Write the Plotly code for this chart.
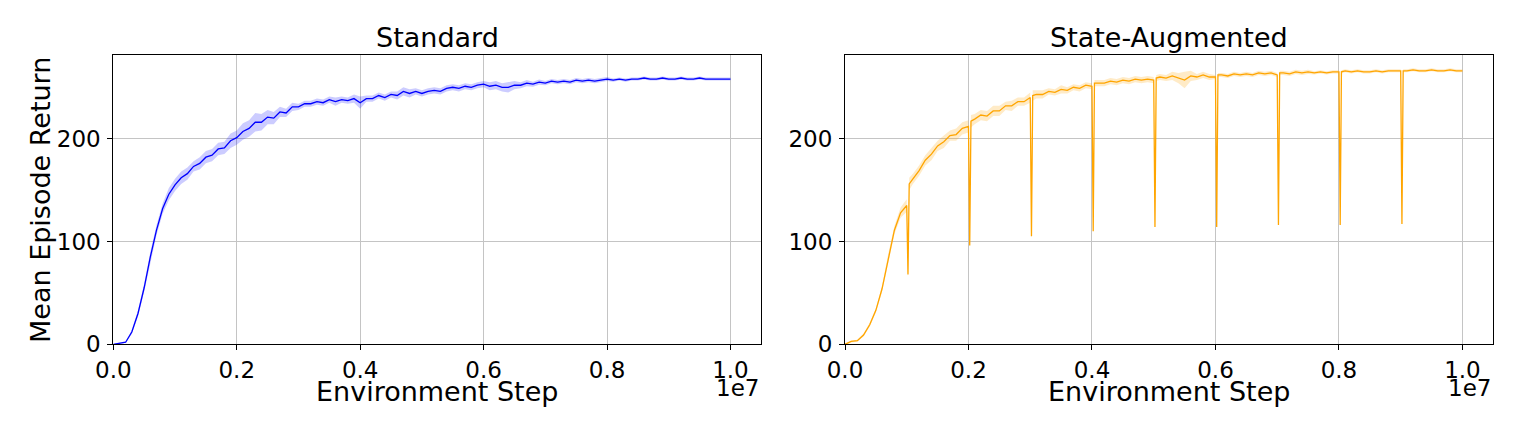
import numpy as np
import plotly.graph_objects as go

# ---------------- data ----------------
# regular evaluation steps: 0 .. 1e7 every 1e5
steps = np.arange(0, 101) * 1e5

standard_mean = [
    0, 0.7, 2, 12, 30, 55, 85, 111, 132, 146,
    155, 162, 166, 173, 176, 182, 184, 190, 191, 198,
    201, 207, 210, 216, 216, 221, 220, 226, 225, 231,
    231, 234, 234, 236, 235, 238, 236, 238, 237, 239,
    235, 239, 239, 242, 240, 243, 242, 246, 244, 246,
    244, 246, 247, 246, 249, 250, 249, 251, 250, 252,
    253, 251, 252, 250, 250, 252, 252, 254, 253, 255,
    254, 256, 255, 256, 255, 257, 256, 257, 256, 257,
    258, 257, 258, 257, 258, 258, 259, 258, 258, 259,
    258, 258, 259, 258, 258, 259, 258, 258, 258, 258,
    258,
]
standard_std = [
    0.3, 0.5, 0.8, 2, 3, 4, 5, 5, 5, 6,
    6, 6, 6, 5, 6, 6, 6, 6, 6, 7,
    7, 8, 8, 9, 8, 7, 6, 5, 4, 4,
    3, 3, 3, 3, 3, 3, 4, 3, 3, 4,
    6, 3, 3, 3, 3, 3, 4, 4, 4, 3,
    3, 3, 3, 3, 3, 3, 3, 3, 3, 3,
    3, 4, 4, 4, 5, 4, 3, 3, 2.5, 2.5,
    2, 2, 2, 2, 2, 2, 2, 2, 2, 2,
    2, 1.5, 1.5, 1.5, 1.5, 1.5, 1.5, 1.5, 1.5, 1.5,
    1.5, 1.5, 1.5, 1.5, 1.5, 1.5, 1.5, 1.5, 1.5, 1.5,
    1.5,
]

augmented_mean = [
    0, 2.8, 3.5, 9, 19, 33, 54, 84, 111, 128,
    135, 161, 169, 179, 185, 193, 197, 203, 204, 210,
    212, 219, 223, 222, 227, 227, 232, 232, 236, 236,
    240, 243, 243, 246, 245, 248, 247, 250, 249, 252,
    251, 254, 254, 256, 255, 257, 256, 258, 257, 258,
    257, 260, 259, 261, 259, 257, 261, 260, 262, 260,
    260, 262, 261, 263, 262, 263, 262, 264, 263, 264,
    262, 264, 263, 265, 264, 265, 264, 265, 264, 265,
    265, 266, 265, 266, 265, 265, 266, 265, 266, 266,
    266, 266, 267, 266, 266, 267, 266, 266, 267, 266,
    266,
]
augmented_std = [
    0.5, 1, 1, 1.5, 2, 2, 3, 4, 4, 5,
    6, 5, 5, 5, 6, 5, 6, 5, 6, 6,
    6, 5, 5, 5, 5, 5, 4, 5, 4, 4,
    5, 4, 4, 3, 3, 4, 3, 3, 3, 3,
    3, 3, 3, 3, 3, 3, 3, 3, 3, 3,
    3, 3, 3, 4, 5, 8, 5, 3, 3, 3,
    2, 2, 2, 2, 2, 2, 2, 2, 2, 2,
    2, 2, 2, 2, 2, 2, 1.5, 1.5, 1.5, 1.5,
    1.5, 1.5, 1.5, 1.5, 1.5, 1.5, 1.5, 1.5, 1.5, 1.5,
    1.5, 1.5, 1.5, 1.5, 1.5, 1.5, 1.5, 1.5, 1.5, 1.5,
    1.5,
]

# sharp drops of the state-augmented run right after every 1e6 steps
dip_steps = [1e6, 2e6, 3e6, 4e6, 5e6, 6e6, 7e6, 8e6, 9e6]
dip_low = [68, 96, 105, 110, 114, 114, 116, 116, 117]
dip_after = [156, 217, 242, 254, 259, 262, 264, 265, 266]
dip_std = [3, 2, 2, 2, 2, 2, 2, 2, 2]

tick_vals = [0, 2e6, 4e6, 6e6, 8e6, 1e7]
tick_text = ["0.0", "0.2", "0.4", "0.6", "0.8", "1.0"]
y_tick_vals = [0, 100, 200]

# ---------------- build augmented series with dips ----------------
aug_x, aug_y, aug_s = [], [], []
for s, m, sd in zip(steps, augmented_mean, augmented_std):
    aug_x.append(s); aug_y.append(m); aug_s.append(sd)
    for ds, lo, af, dsd in zip(dip_steps, dip_low, dip_after, dip_std):
        if abs(s - ds) < 1:
            aug_x += [ds + 2e4, ds + 4e4]
            aug_y += [lo, af]
            aug_s += [dsd, sd]

std_x = list(steps)
std_y = np.array(standard_mean, float)
std_s = np.array(standard_std, float)
aug_y = np.array(aug_y, float)
aug_s = np.array(aug_s, float)

FONT = "DejaVu Sans"
fig = go.Figure()


def add_band(x, mean, sd, color, fill, xa, ya):
    fig.add_trace(go.Scatter(x=x, y=mean + sd, mode="lines", line=dict(width=0),
                             hoverinfo="skip", showlegend=False, xaxis=xa, yaxis=ya))
    fig.add_trace(go.Scatter(x=x, y=mean - sd, mode="lines", line=dict(width=0),
                             fill="tonexty", fillcolor=fill, hoverinfo="skip",
                             showlegend=False, xaxis=xa, yaxis=ya))
    fig.add_trace(go.Scatter(x=x, y=mean, mode="lines", line=dict(color=color, width=1.3),
                             showlegend=False, xaxis=xa, yaxis=ya))


add_band(std_x, std_y, std_s, "#0000ff", "rgba(0,0,255,0.2)", "x", "y")
add_band(aug_x, aug_y, aug_s, "#ffa500", "rgba(255,165,0,0.22)", "x2", "y2")

W, H = 1522, 435
d1 = [113.3 / W, 760.7 / W]
d2 = [845.0 / W, 1492.7 / W]
dy = [1 - 344.3 / H, 1 - 55.0 / H]

axis_common = dict(
    showline=True, mirror=True, linecolor="#000000", linewidth=1,
    ticks="outside", ticklen=5, tickwidth=1, tickcolor="#000000",
    showgrid=True, gridcolor="#c4c4c4", gridwidth=1, zeroline=False,
    automargin=False,
    tickfont=dict(family=FONT, size=23, color="#000000"),
)
fig.update_layout(
    width=W, height=H, autosize=False,
    margin=dict(l=0, r=0, t=0, b=0),
    paper_bgcolor="white", plot_bgcolor="white",
    font=dict(family=FONT, color="#000000"),
    xaxis=dict(domain=d1, range=[0, 1.049e7], tickvals=tick_vals, ticktext=tick_text,
               anchor="y", **axis_common),
    yaxis=dict(domain=dy, range=[0, 281.4], tickvals=y_tick_vals, anchor="x",
               ticklabelstandoff=2, **axis_common),
    xaxis2=dict(domain=d2, range=[0, 1.049e7], tickvals=tick_vals, ticktext=tick_text,
                anchor="y2", **axis_common),
    yaxis2=dict(domain=dy, range=[0, 281.4], tickvals=y_tick_vals, anchor="x2",
                ticklabelstandoff=2, **axis_common),
)

ann = []
for dom, title in [(d1, "Standard"), (d2, "State-Augmented")]:
    cx = (dom[0] + dom[1]) / 2
    ann.append(dict(text=title, x=cx, y=dy[1], xref="paper", yref="paper",
                    xanchor="center", yanchor="bottom", showarrow=False,
                    font=dict(family=FONT, size=27, color="#000000")))
    ann.append(dict(text="Environment Step", x=cx, y=1 - 391 / H, xref="paper", yref="paper",
                    xanchor="center", yanchor="middle", showarrow=False,
                    font=dict(family=FONT, size=27, color="#000000")))
    ann.append(dict(text="1e7", x=dom[1], y=1 - 388 / H, xref="paper", yref="paper",
                    xanchor="right", yanchor="middle", showarrow=False,
                    font=dict(family=FONT, size=23, color="#000000")))
ann.append(dict(text="Mean Episode Return", x=40 / W, y=1 - 200 / H, xref="paper", yref="paper",
                xanchor="center", yanchor="middle", textangle=-90, showarrow=False,
                font=dict(family=FONT, size=27, color="#000000")))
fig.update_layout(annotations=ann)

fig.write_html("out.html", config={"displayModeBar": False},
               post_script="document.body.style.margin='0';")
